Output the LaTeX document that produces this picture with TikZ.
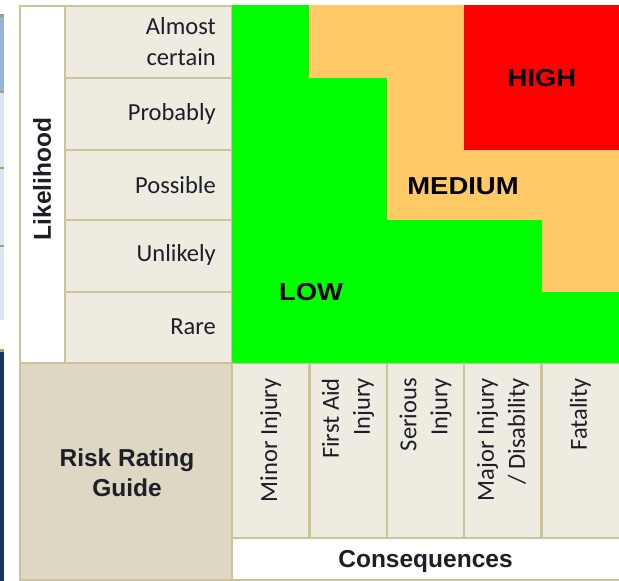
\documentclass[tikz,border=0pt]{standalone}
\usepackage{fontspec}
\setmainfont{Carlito}
\newfontfamily\hdfont{Liberation Sans}
\newfontfamily\rkfont{Liberation Sans}[FakeStretch=1.12]
\definecolor{bord}{RGB}{204,195,155}
\definecolor{labfill}{RGB}{238,235,224}
\definecolor{guidefill}{RGB}{221,215,195}
\definecolor{gr}{RGB}{0,255,0}
\definecolor{orng}{RGB}{255,201,102}
\definecolor{rd}{RGB}{255,0,0}
\definecolor{txt}{RGB}{30,30,40}
\definecolor{olive}{RGB}{156,168,107}
\definecolor{blu}{RGB}{149,179,215}
\definecolor{lblu}{RGB}{220,230,242}
\definecolor{navy}{RGB}{23,55,94}
\begin{document}
\begin{tikzpicture}[x=1pt,y=-1pt,
  lab/.style={font=\fontsize{24.5}{31}\selectfont, inner sep=0pt, align=right, text=txt},
  hd/.style={font=\hdfont\bfseries\fontsize{24.5}{30}\selectfont, inner sep=0pt, align=center, text=txt},
  rk/.style={font=\rkfont\bfseries\fontsize{24.5}{30}\selectfont, inner sep=0pt, text=black},
  cellb/.style={draw=bord, line width=2.5pt},
]
\useasboundingbox (0,0) rectangle (619,581);
% left edge remnants
\fill[olive] (0,14) rectangle (3.5,17);
\fill[blu] (0,17) rectangle (3.5,91);
\fill[olive] (0,91) rectangle (3.5,93);
\fill[lblu] (0,93) rectangle (3.5,320);
\fill[olive] (0,166.5) rectangle (3.5,168.5);
\fill[olive] (0,245) rectangle (3.5,247);
\fill[olive] (0,349) rectangle (3.5,351.5);
\fill[navy] (0,351.5) rectangle (3.5,581);
% cell fills
\fill[white] (20,6) rectangle (65,363);
\fill[labfill] (65,6) rectangle (232,363);
\fill[guidefill] (20,363) rectangle (232,581);
\fill[labfill] (232,363) rectangle (619,538);
\fill[white] (232,538) rectangle (619,581);
% borders
\draw[cellb] (20,6) rectangle (232,580);
\draw[cellb] (65,6) -- (65,363);
\foreach \yy in {78,150,220,292} \draw[cellb] (65,\yy) -- (232,\yy);
\draw[cellb] (20,363) -- (619,363);
\foreach \xx in {309.4,386.8,464.2,541.6} \draw[cellb] (\xx,363) -- (\xx,538);
\draw[cellb] (232,538) -- (619,538);
\draw[cellb] (232,580) -- (619,580);
% risk zones
\fill[gr] (232,5) rectangle (619,363);
\fill[orng] (309.4,5) rectangle (464.2,78);
\fill[orng] (386.8,78) rectangle (464.2,150);
\fill[orng] (386.8,150) rectangle (619,220);
\fill[orng] (541.6,220) rectangle (619,292);
\fill[rd] (464.2,5) rectangle (619,150);
% likelihood labels
\node[lab, anchor=east] (almost) at (216,41.5) {Almost\\certain};
\node[lab, anchor=east] (probably) at (216,114) {Probably};
\node[lab, anchor=east] (possible) at (216,185) {Possible};
\node[lab, anchor=east] (unlikely) at (216,255) {Unlikely};
\node[lab, anchor=east] (rare) at (216,327) {Rare};
% consequence labels
\node[lab, rotate=90, anchor=east] (minor) at (270.7,378) {Minor Injury};
\node[lab, rotate=90, anchor=east] (firstaid) at (348,378) {First Aid\\Injury};
\node[lab, rotate=90, anchor=east] (serious) at (425.5,378) {Serious\\Injury};
\node[lab, rotate=90, anchor=east] (major) at (503,378) {Major Injury\\/ Disability};
\node[lab, rotate=90, anchor=east] (fatality) at (580.3,378) {Fatality};
% headings
\node[hd, rotate=90] (likelihood) at (42,179) {Likelihood};
\node[hd] (guide) at (127,473) {Risk Rating\\Guide};
\node[hd] (cons) at (425.5,561) {Consequences};
% risk words
\node[rk] (high) at (542,78.5) {HIGH};
\node[rk] (medium) at (463,186) {MEDIUM};
\node[rk] (low) at (311,292.5) {LOW};
\end{tikzpicture}
\end{document}
